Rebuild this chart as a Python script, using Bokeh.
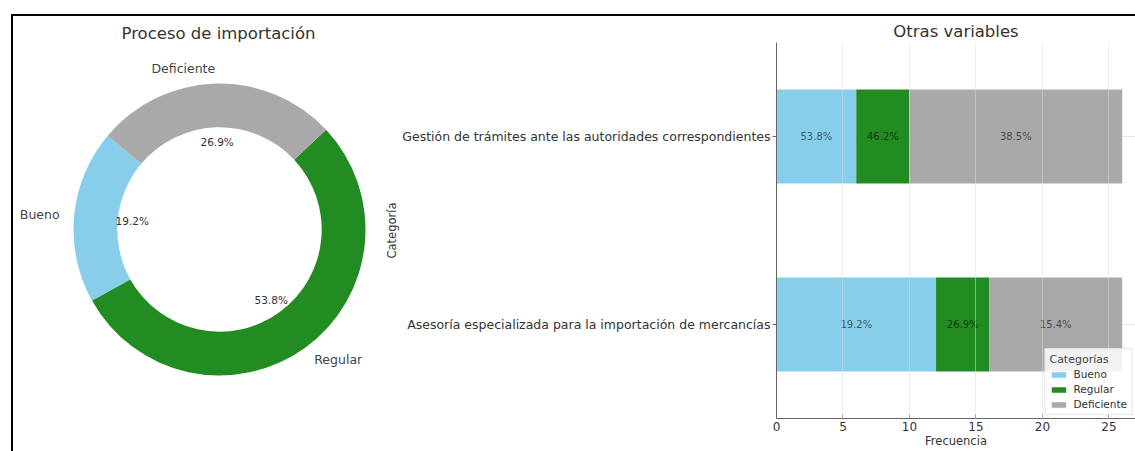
import numpy as np
from bokeh.plotting import figure
from bokeh.models import (ColumnDataSource, Range1d, FactorRange, Legend, LegendItem,
                          Div, Spacer, FixedTicker)
from bokeh.layouts import row, column
from bokeh.embed import file_html
from bokeh.resources import INLINE
from bokeh.core.properties import value

FONT = "DejaVu Sans"
TXT = "#333333"

# ---------------- data ----------------
pie_labels = ["Bueno", "Regular", "Deficiente"]
pie_counts = [5, 14, 7]
pie_colors = ["#87CEEB", "#228B22", "#A9A9A9"]

bar_categories = ["Asesoría especializada para la importación de mercancías",
                  "Gestión de trámites ante las autoridades correspondientes"]
bueno = [12, 6]
regular = [4, 4]
deficiente = [10, 16]
bueno_pct = ["19.2%", "53.8%"]
regular_pct = ["26.9%", "46.2%"]
deficiente_pct = ["15.4%", "38.5%"]
x_ticks = [0, 5, 10, 15, 20, 25]

# layout constants (page pixels)
TOP = 16          # page y where the figures start
H = 451 - TOP     # figure height
FT, FB = 42, 418  # frame top / bottom (page y)

# ---------------- donut ----------------
DW = 367
pd_ = figure(width=DW, height=H, x_range=Range1d(13, 13 + DW),
             y_range=Range1d(451 - FB, 451 - FT),
             output_backend="svg", toolbar_location=None,
             min_border_left=0, min_border_right=0,
             min_border_top=FT - TOP, min_border_bottom=451 - FB,
             x_axis_location=None, y_axis_location=None,
             title="Proceso de importación")
pd_.grid.visible = False
pd_.outline_line_color = None
pd_.title.align = "left"
pd_.title.offset = 108
pd_.title.standoff = 0
pd_.title.text_font = FONT
pd_.title.text_font_size = "16.5px"
pd_.title.text_font_style = "normal"
pd_.title.text_color = TXT

cx, cy, R = 219, 451 - 229, 146
counts = np.array(pie_counts, dtype=float)
fr = counts / counts.sum()
start = np.deg2rad(140) + 2 * np.pi * np.concatenate([[0], np.cumsum(fr)[:-1]])
end = start + 2 * np.pi * fr
mid = (start + end) / 2

pd_.annular_wedge(x=cx, y=cy, inner_radius=0.7 * R, outer_radius=R,
                  start_angle=start, end_angle=end, direction="anticlock",
                  fill_color=pie_colors, line_color=None)

pct_src = ColumnDataSource(dict(
    x=cx + 0.6 * R * np.cos(mid), y=cy + 0.6 * R * np.sin(mid),
    t=[f"{v * 100:.1f}%" for v in fr]))
pd_.text(x="x", y="y", text="t", source=pct_src, text_align="center",
         text_baseline="middle", text_font=value(FONT), text_font_size="10.5px",
         text_color=TXT)

lab_src = ColumnDataSource(dict(
    x=cx + 1.1 * R * np.cos(mid), y=cy + 1.1 * R * np.sin(mid), t=pie_labels,
    a=["left" if c > 0 else "right" for c in np.cos(mid)]))
pd_.text(x="x", y="y", text="t", source=lab_src, text_align="a",
         text_baseline="middle", text_font=value(FONT), text_font_size="12.5px",
         text_color="#444444")

# ---------------- stacked bars ----------------
BW = 1135 - 13 - DW
pb = figure(width=BW, height=H, y_range=FactorRange(factors=bar_categories),
            x_range=Range1d(0, 27.0), output_backend="svg", toolbar_location=None,
            min_border_left=776 - 13 - DW, min_border_right=0,
            min_border_top=FT - TOP, min_border_bottom=451 - FB,
            title="Otras variables")
pb.outline_line_color = None
pb.title.align = "center"
pb.title.text_font = FONT
pb.title.text_font_size = "16.5px"
pb.title.text_font_style = "normal"
pb.title.text_color = TXT
pb.title.standoff = 3

src = ColumnDataSource(dict(cat=bar_categories, Bueno=bueno, Regular=regular,
                            Deficiente=deficiente))
rs = pb.hbar_stack(pie_labels, y="cat", height=0.5, fill_color=pie_colors,
                   line_color=None, source=src)

left = np.zeros(len(bar_categories))
for vals, pcts in zip([bueno, regular, deficiente], [bueno_pct, regular_pct, deficiente_pct]):
    v = np.array(vals, dtype=float)
    s = ColumnDataSource(dict(x=left + v / 2, y=bar_categories, t=pcts))
    pb.text(x="x", y="y", text="t", source=s, text_align="center",
            text_baseline="middle", text_font=value(FONT), text_font_size="10px",
            text_color="black", text_alpha=0.6)
    left = left + v

pb.xaxis.ticker = FixedTicker(ticks=x_ticks)
pb.xaxis.axis_label = "Frecuencia"
pb.yaxis.axis_label = "Categoría"
for ax in (pb.xaxis[0], pb.yaxis[0]):
    ax.major_label_text_font = FONT
    ax.major_label_text_color = TXT
    ax.axis_label_text_font = FONT
    ax.axis_label_text_font_size = "11.5px"
    ax.axis_label_text_font_style = "normal"
    ax.axis_label_text_color = TXT
    ax.axis_line_color = "#666666"
    ax.major_tick_line_color = "#666666"
    ax.minor_tick_line_color = None
pb.xaxis.major_label_text_font_size = "12px"
pb.yaxis.major_label_text_font_size = "12.5px"
pb.xaxis.major_tick_in = 4
pb.xaxis.major_tick_out = 0
pb.xaxis.major_label_standoff = 3
pb.xaxis.axis_label_standoff = 0
pb.yaxis.major_tick_in = 0
pb.yaxis.major_tick_out = 4
pb.yaxis.major_label_standoff = 2
pb.yaxis.axis_label_standoff = 0

pb.xgrid.grid_line_color = "#dddddd"
pb.ygrid.grid_line_color = "#e6e6e6"
pb.xgrid.grid_line_alpha = 0.5
pb.xgrid.level = "overlay"

legend = Legend(items=[LegendItem(label=l, renderers=[r]) for l, r in zip(pie_labels, rs)],
                title="Categorías", location="bottom_right")
legend.label_text_font = FONT
legend.label_text_font_size = "10.5px"
legend.label_text_color = TXT
legend.title_text_font = FONT
legend.title_text_font_size = "11px"
legend.title_text_font_style = "normal"
legend.title_text_color = "#444444"
legend.title_standoff = 2
legend.glyph_width = 18
legend.glyph_height = 7
legend.label_height = 12
legend.label_standoff = 6
legend.spacing = 3
legend.padding = 4
legend.margin = 3
legend.border_line_color = "#cccccc"
legend.background_fill_alpha = 0.85
pb.add_layout(legend)

black = {"background-color": "#000000"}
layout = column(
    Spacer(width=1135, height=14, margin=0),
    row(Spacer(width=11, height=2, margin=0),
        Div(width=1124, height=2, styles=black, margin=0), margin=0),
    row(Spacer(width=11, height=H, margin=0),
        Div(width=2, height=H, styles=black, margin=0), pd_, pb, margin=0),
    margin=0,
)

open("out.html", "w").write(file_html(layout, INLINE))
